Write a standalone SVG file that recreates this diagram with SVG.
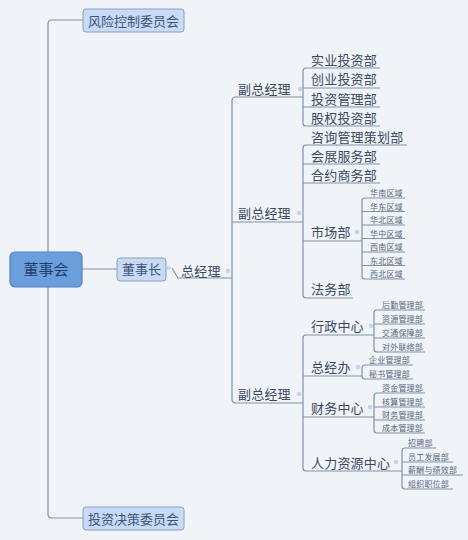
<svg xmlns="http://www.w3.org/2000/svg" width="468" height="540" viewBox="0 0 468 540">
<style>
.bg{fill:#f0f3f8}
.ln{fill:none;stroke:#8193a8;stroke-width:1.2}
.box{fill:#c8daf5;stroke:#8a9fba;stroke-width:1}
.root{fill:#6a9fdc;stroke:#4f82c6;stroke-width:1.2}
text{font-family:"Noto Sans CJK SC","Noto Sans",sans-serif}
.t1{font-size:13px;fill:#3d5478}
.t0{font-size:15px;fill:#1f3d6e}
.t2{font-size:13px;fill:#3b4a5e;letter-spacing:0.2px}
.t3{font-size:8px;fill:#56667c;letter-spacing:0.2px}
.dot{fill:#c4d3e7}
</style>
<rect class="bg" x="0" y="0" width="468" height="540"/>
<g id="connectors">
<path class="ln" d="M83,20 H52 Q48,20 48,24 V514 Q48,518 52,518 H83"/>
<path class="ln" d="M82,269 H117"/>
<path class="ln" d="M172,268 L178,278 H232"/>
<path class="ln" d="M303,97 H236 Q232,97 232,101 V399 Q232,403 236,403 H303"/>
<path class="ln" d="M232,222 H303"/>
<!-- group 1 -->
<path class="ln" d="M380,68 H306 Q303,68 303,71 V123 Q303,126 306,126 H380"/>
<path class="ln" d="M303,88 H380 M303,107 H380"/>
<!-- group 2 -->
<path class="ln" d="M407,145 H306 Q303,145 303,148 V295 Q303,298 306,298 H353"/>
<path class="ln" d="M303,164 H380 M303,183 H380 M303,241 H362"/>
<path class="ln" d="M405,198 H365 Q362,198 362,201 V276 Q362,279 365,279 H405"/>
<path class="ln" d="M362,211.5 H405 M362,225 H405 M362,238.5 H405 M362,252 H405 M362,265.5 H405"/>
<!-- group 3 -->
<path class="ln" d="M374,335 H306 Q303,335 303,338 V468 Q303,471 306,471 H402"/>
<path class="ln" d="M303,376 H362 M303,417 H374"/>
<path class="ln" d="M425,310 H377 Q374,310 374,313 V349 Q374,352 377,352 H425"/>
<path class="ln" d="M374,324 H425 M374,338 H425"/>
<path class="ln" d="M413,365 H365 Q362,365 362,368 V376 Q362,379 365,379 H413"/>
<path class="ln" d="M425,393 H377 Q374,393 374,396 V430 Q374,433 377,433 H425"/>
<path class="ln" d="M374,407 H425 M374,420 H425"/>
<path class="ln" d="M436,448 H405 Q402,448 402,451 V486 Q402,489 405,489 H453"/>
<path class="ln" d="M402,462 H453 M402,475 H463"/>
</g>
<g id="n-board">
<rect class="root" x="10" y="252" width="72" height="35" rx="5"/>
<text class="t0" x="46" y="274.5" text-anchor="middle">董事会</text>
</g>
<g id="n-risk">
<rect class="box" x="83" y="9" width="101" height="23" rx="3"/>
<text class="t1" x="133.5" y="25.5" text-anchor="middle">风险控制委员会</text>
</g>
<g id="n-invest">
<rect class="box" x="83" y="507" width="101" height="23" rx="3"/>
<text class="t1" x="133.5" y="523.5" text-anchor="middle">投资决策委员会</text>
</g>
<g id="n-chair">
<rect class="box" x="117" y="258" width="49" height="23" rx="3"/>
<text class="t1" x="141.5" y="274" text-anchor="middle">董事长</text>
<circle class="dot" cx="168.5" cy="268" r="2"/>
</g>
<g id="n-gm">
<text class="t2" x="181" y="276">总经理</text>
<circle class="dot" cx="228" cy="271" r="2.2"/>
</g>
<g id="n-vp1">
<text class="t2" x="238" y="94">副总经理</text>
<circle class="dot" cx="300" cy="89" r="2.2"/>
</g>
<g id="n-vp2">
<text class="t2" x="238" y="218">副总经理</text>
<circle class="dot" cx="299" cy="213" r="2.2"/>
</g>
<g id="n-vp3">
<text class="t2" x="238" y="399">副总经理</text>
<circle class="dot" cx="299" cy="394" r="2.2"/>
</g>
<g id="g1">
<text class="t2" x="311" y="65">实业投资部</text>
<text class="t2" x="311" y="84">创业投资部</text>
<text class="t2" x="311" y="104">投资管理部</text>
<text class="t2" x="311" y="123">股权投资部</text>
</g>
<g id="g2">
<text class="t2" x="311" y="142">咨询管理策划部</text>
<text class="t2" x="311" y="161">会展服务部</text>
<text class="t2" x="311" y="180">合约商务部</text>
<text class="t2" x="311" y="294">法务部</text>
</g>
<g id="n-market">
<text class="t2" x="311" y="237">市场部</text>
<circle class="dot" cx="357" cy="232" r="2.2"/>
</g>
<g id="g-market">
<text class="t3" x="370" y="196">华南区域</text>
<text class="t3" x="370" y="209.5">华东区域</text>
<text class="t3" x="370" y="223">华北区域</text>
<text class="t3" x="370" y="236.5">华中区域</text>
<text class="t3" x="370" y="250">西南区域</text>
<text class="t3" x="370" y="263.5">东北区域</text>
<text class="t3" x="370" y="277">西北区域</text>
</g>
<g id="n-admin">
<text class="t2" x="311" y="331">行政中心</text>
<circle class="dot" cx="371" cy="326" r="2.2"/>
</g>
<g id="g-admin">
<text class="t3" x="382" y="308">后勤管理部</text>
<text class="t3" x="382" y="322">资源管理部</text>
<text class="t3" x="382" y="336">交通保障部</text>
<text class="t3" x="382" y="350">对外联络部</text>
</g>
<g id="n-office">
<text class="t2" x="311" y="372">总经办</text>
<circle class="dot" cx="358" cy="367" r="2.2"/>
</g>
<g id="g-office">
<text class="t3" x="369" y="363">企业管理部</text>
<text class="t3" x="369" y="377">秘书管理部</text>
</g>
<g id="n-finance">
<text class="t2" x="311" y="413">财务中心</text>
<circle class="dot" cx="370" cy="407" r="2.2"/>
</g>
<g id="g-finance">
<text class="t3" x="382" y="391">资金管理部</text>
<text class="t3" x="382" y="405">核算管理部</text>
<text class="t3" x="382" y="418">财务管理部</text>
<text class="t3" x="382" y="431">成本管理部</text>
</g>
<g id="n-hr">
<text class="t2" x="311" y="468">人力资源中心</text>
<circle class="dot" cx="396" cy="462" r="2.2"/>
</g>
<g id="g-hr">
<text class="t3" x="408" y="446">招聘部</text>
<text class="t3" x="408" y="460">员工发展部</text>
<text class="t3" x="408" y="473">薪酬与绩效部</text>
<text class="t3" x="408" y="487">组织职位部</text>
</g>
</svg>
